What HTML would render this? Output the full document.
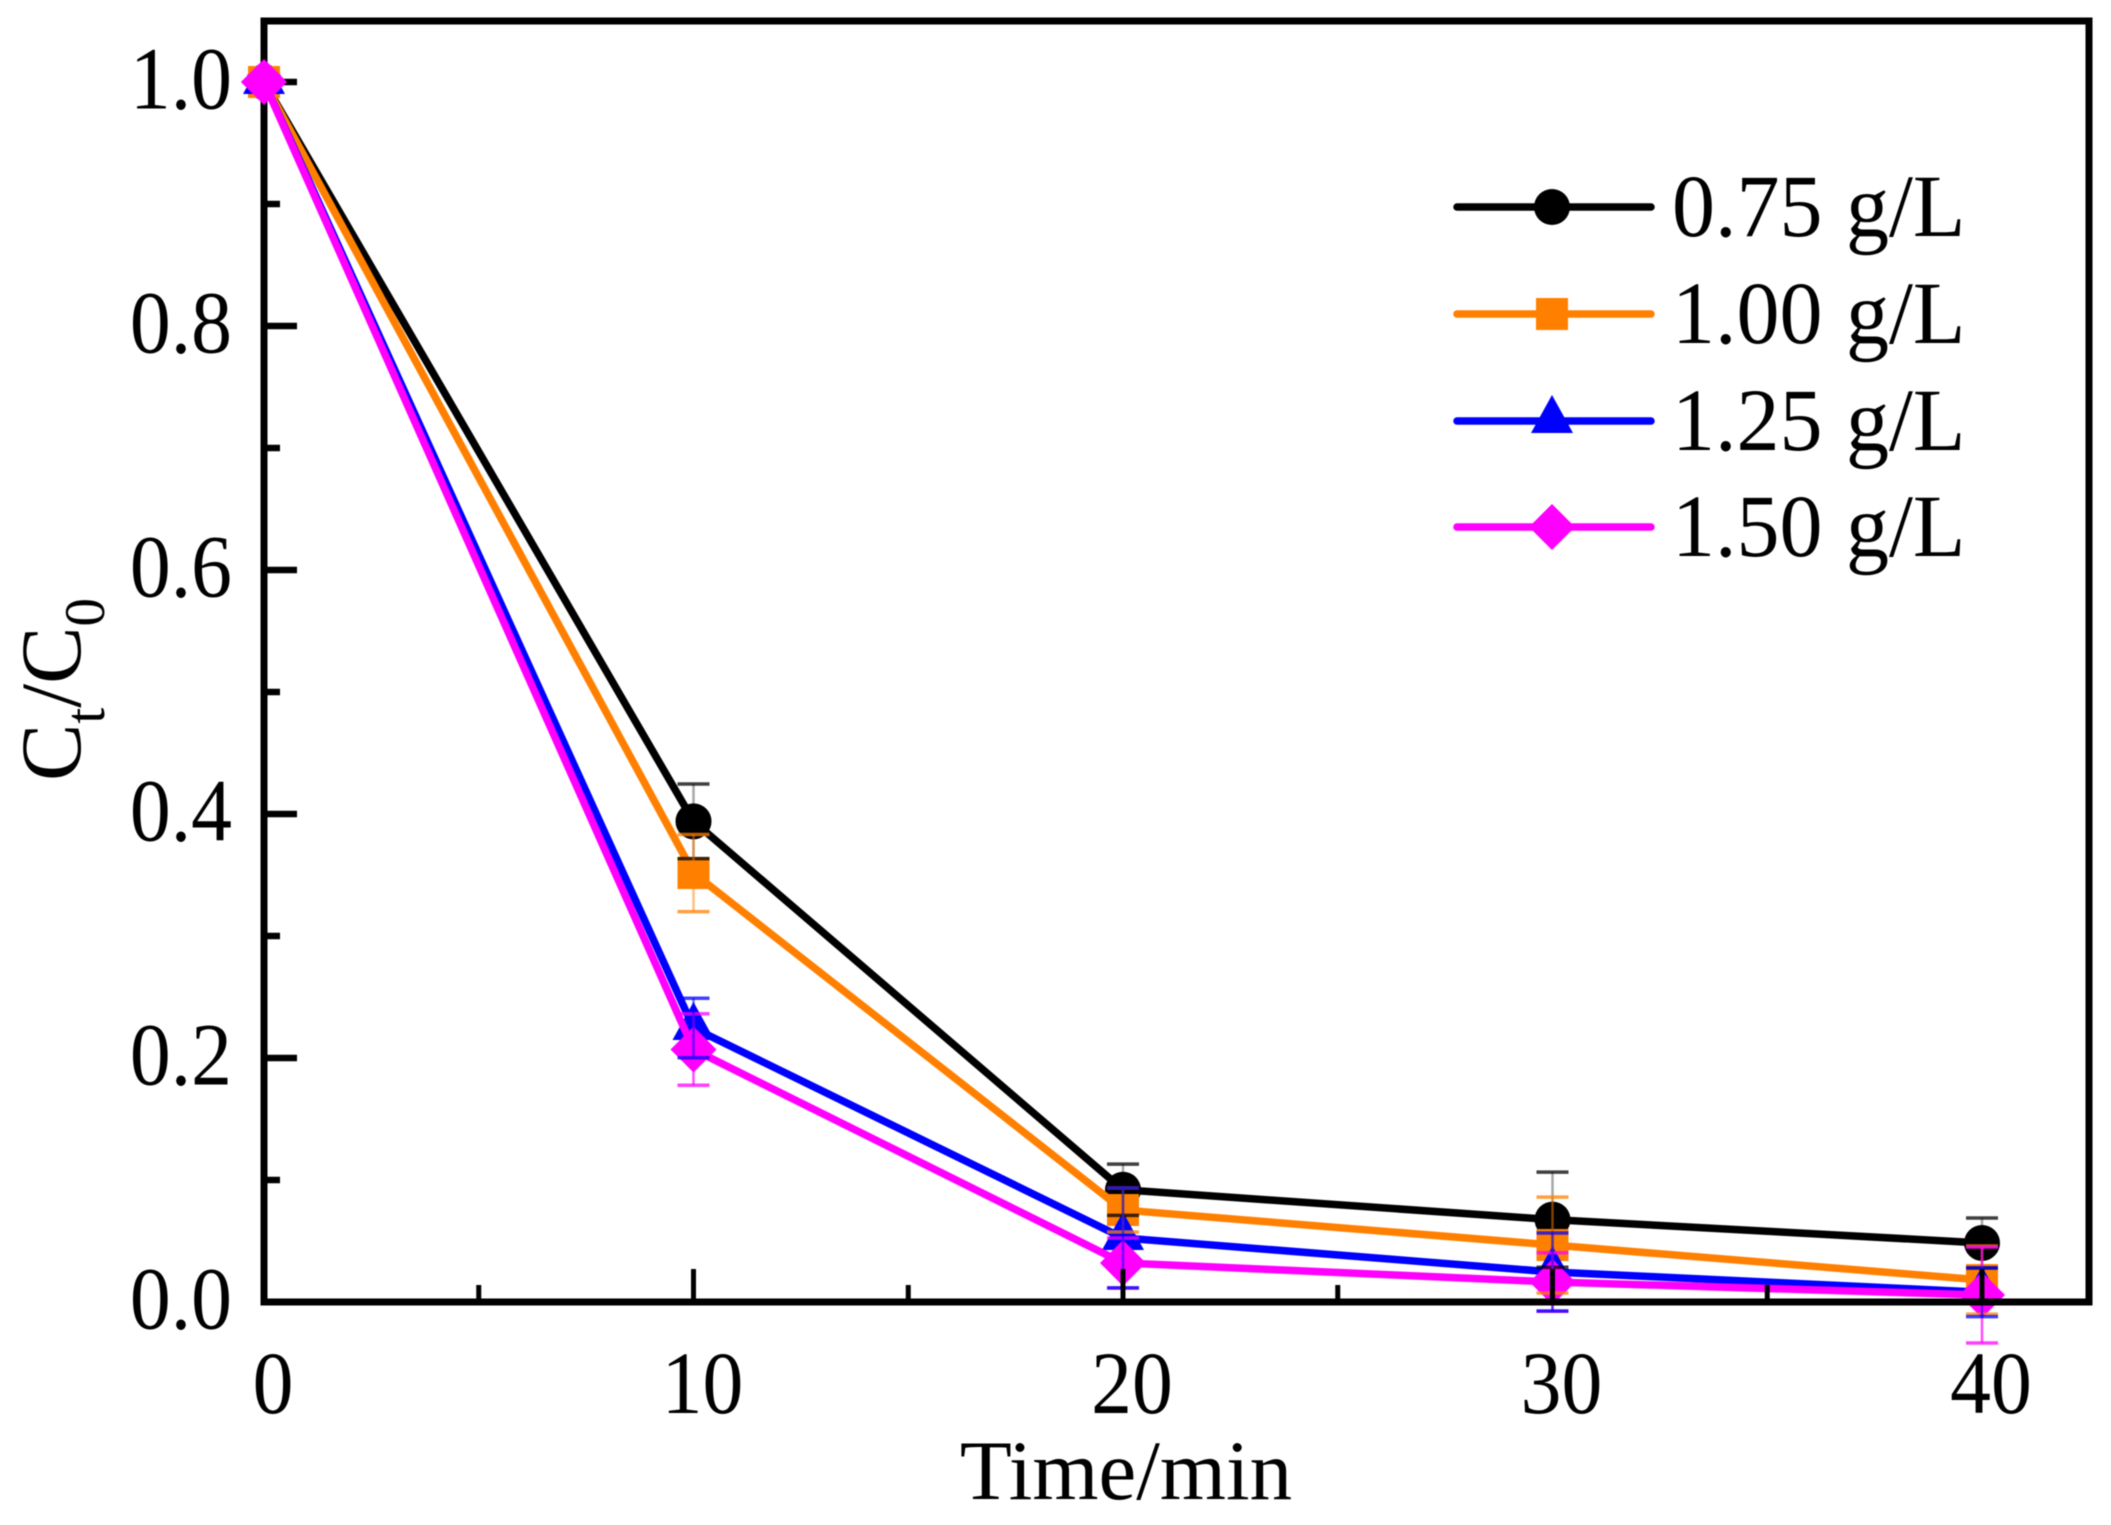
<!DOCTYPE html>
<html lang="en">
<head>
<meta charset="utf-8">
<title>Ct/C0 versus time</title>
<style>
  html, body { margin: 0; padding: 0; background: #fff; }
  svg { display: block; filter: blur(0.6px); }
  text { font-family: "Liberation Serif", "Times New Roman", serif; fill: #000; }
</style>
</head>
<body>
<svg id="chart" xmlns="http://www.w3.org/2000/svg" width="2111" height="1525" viewBox="0 0 2111 1525">
  <rect x="0" y="0" width="2111" height="1525" fill="#fff"></rect>
  <text x="1126" y="1499" font-size="85" text-anchor="middle">Time/min</text>
  <text transform="translate(80,781) rotate(-90)" font-size="86">C<tspan font-size="57" dy="24">t</tspan><tspan dy="-24">/C</tspan><tspan font-size="57" dy="24">0</tspan></text>
</svg>
<script>
// Data
const times = [0, 10, 20, 30, 40];
const seriesNames = ['0.75 g/L', '1.00 g/L', '1.25 g/L', '1.50 g/L'];
const valuesA = [1.0, 0.394, 0.092, 0.0675, 0.0484];
const valuesB = [1.0, 0.3516, 0.0754, 0.0467, 0.018];
const valuesC = [1.0, 0.2246, 0.0525, 0.0246, 0.008];
const valuesD = [1.0, 0.207, 0.032, 0.0164, 0.0057];
const errorsA = [0, 0.0306, 0.021, 0.039, 0.0205];
const errorsB = [0, 0.0316, 0.018, 0.0393, 0.0279];
const errorsC = [0, 0.0244, 0.0409, 0.032, 0.02];
const errorsD = [0, 0.0293, 0.0205, 0.024, 0.0393];
const xTickLabels = [0, 10, 20, 30, 40];
const xMinorTicks = [5, 15, 25, 35];
const yTickLabels = ['0.0', '0.2', '0.4', '0.6', '0.8', '1.0'];
const yMinorTicks = [0.1, 0.3, 0.5, 0.7, 0.9];

const svg = document.getElementById('chart');
const NS = 'http://www.w3.org/2000/svg';
const plot = { left: 264, right: 2089, top: 21, bottom: 1302 };

function xScale(v) { return 264 + v * 42.95; }
function yScale(v) { return 1302 - v * 1220; }

function make(parent, tag, attrs) {
  const el = document.createElementNS(NS, tag);
  for (const k in attrs) el.setAttribute(k, attrs[k]);
  parent.appendChild(el);
  return el;
}

function drawMarker(parent, shape, cx, cy, color) {
  let m;
  if (shape === 'circle') {
    m = make(parent, 'circle', { cx: cx, cy: cy, r: 18, fill: color });
  } else if (shape === 'square') {
    m = make(parent, 'rect', { x: cx - 16, y: cy - 16, width: 32, height: 32, fill: color });
  } else if (shape === 'triangle') {
    m = make(parent, 'polygon', { points: (cx) + ',' + (cy - 26) + ' ' + (cx + 21) + ',' + (cy + 12) + ' ' + (cx - 21) + ',' + (cy + 12), fill: color });
  } else {
    m = make(parent, 'polygon', { points: cx + ',' + (cy - 23) + ' ' + (cx + 23) + ',' + cy + ' ' + cx + ',' + (cy + 23) + ' ' + (cx - 23) + ',' + cy, fill: color });
  }
  return m;
}

// Series
const series = [
  { name: seriesNames[0], key: 'series-0-75', color: '#000000', shape: 'circle', values: valuesA, errors: errorsA, stem: 0.35 },
  { name: seriesNames[1], key: 'series-1-00', color: '#ff8000', shape: 'square', values: valuesB, errors: errorsB, stem: 0.5 },
  { name: seriesNames[2], key: 'series-1-25', color: '#0000ff', shape: 'triangle', values: valuesC, errors: errorsC, stem: 0.55 },
  { name: seriesNames[3], key: 'series-1-50', color: '#ff00ff', shape: 'diamond', values: valuesD, errors: errorsD, stem: 0.7 }
];

series.forEach(function (s) {
  const group = make(svg, 'g', {});
  
  
  const line = make(group, 'polyline', {
    points: s.values.map(function (v, i) { return xScale(times[i]) + ',' + yScale(v); }).join(' '),
    fill: 'none', stroke: s.color, 'stroke-width': 7.5, 'stroke-linejoin': 'round'
  });
  
  
  s.values.forEach(function (v, i) {
    const m = drawMarker(group, s.shape, xScale(times[i]), yScale(v), s.color);
    
    
  });
});

// Error bars sit above every marker; the magenta set goes under the blue set
[series[0], series[1], series[3], series[2]].forEach(function (s) {
  s.values.forEach(function (v, i) {
    const e = s.errors[i];
    if (e === 0) return;
    const cx = xScale(times[i]);
    const g = make(svg, 'g', {});
    
    
    make(g, 'line', { x1: cx, x2: cx, y1: yScale(v + e), y2: yScale(v - e), stroke: s.color, 'stroke-width': 2.5, 'stroke-opacity': s.stem });
    make(g, 'line', { x1: cx - 16, x2: cx + 16, y1: yScale(v + e), y2: yScale(v + e), stroke: s.color, 'stroke-width': 3.5, 'stroke-opacity': 0.75 });
    make(g, 'line', { x1: cx - 16, x2: cx + 16, y1: yScale(v - e), y2: yScale(v - e), stroke: s.color, 'stroke-width': 3.5, 'stroke-opacity': 0.75 });
  });
});

// Axes frame
const frame = make(svg, 'path', {
  d: 'M' + plot.left + ' ' + plot.bottom + ' V' + plot.top + ' H' + plot.right + ' V' + plot.bottom + ' Z',
  fill: 'none', stroke: '#000', 'stroke-width': 7, 'stroke-linejoin': 'miter'
});



// X ticks
xTickLabels.forEach(function (v) {
  const cx = xScale(v);
  if (v !== 0) {
    const t = make(svg, 'line', { x1: cx, x2: cx, y1: plot.bottom, y2: plot.bottom - 33, stroke: '#000', 'stroke-width': 5 });
    
    
  }
  const lab = make(svg, 'text', { transform: 'translate(' + (cx + 9) + ',1413) scale(0.95,1.03)', 'font-size': 86, 'text-anchor': 'middle' });
  lab.textContent = String(v);
  
  
});
xMinorTicks.forEach(function (v) {
  const t = make(svg, 'line', { x1: xScale(v), x2: xScale(v), y1: plot.bottom, y2: plot.bottom - 17, stroke: '#000', 'stroke-width': 5 });
  
  
});

// Y ticks
yTickLabels.forEach(function (label) {
  const cy = yScale(parseFloat(label));
  if (label !== '0.0') {
    const t = make(svg, 'line', { x1: plot.left, x2: plot.left + 33, y1: cy, y2: cy, stroke: '#000', 'stroke-width': 6.5 });
    
    
  }
  const lab = make(svg, 'text', { transform: 'translate(232,' + (cy + 26.5) + ') scale(0.95,1.03)', 'font-size': 86, 'text-anchor': 'end' });
  lab.textContent = label;
  
  
});
yMinorTicks.forEach(function (v) {
  const t = make(svg, 'line', { x1: plot.left, x2: plot.left + 16, y1: yScale(v), y2: yScale(v), stroke: '#000', 'stroke-width': 6.5 });
  
  
});

// The markers at t=0 overlap the left axis, so redraw the last series on top of it
const topMarker = drawMarker(svg, series[3].shape, xScale(times[0]), yScale(valuesD[0]), series[3].color);



// Legend
const legendLineY = [207, 314, 421, 527];
series.forEach(function (s, i) {
  const y = legendLineY[i];
  const g = make(svg, 'g', {});
  
  
  make(g, 'line', { x1: 1457, x2: 1651, y1: y, y2: y, stroke: s.color, 'stroke-width': 7.5, 'stroke-linecap': 'round' });
  drawMarker(g, s.shape, 1552, y, s.color);
  const t = make(g, 'text', { transform: 'translate(1672,' + (y + 29) + ') scale(1,1.03)', 'font-size': 86, 'word-spacing': 2 });
  t.textContent = s.name;
});
</script>
</body>
</html>
